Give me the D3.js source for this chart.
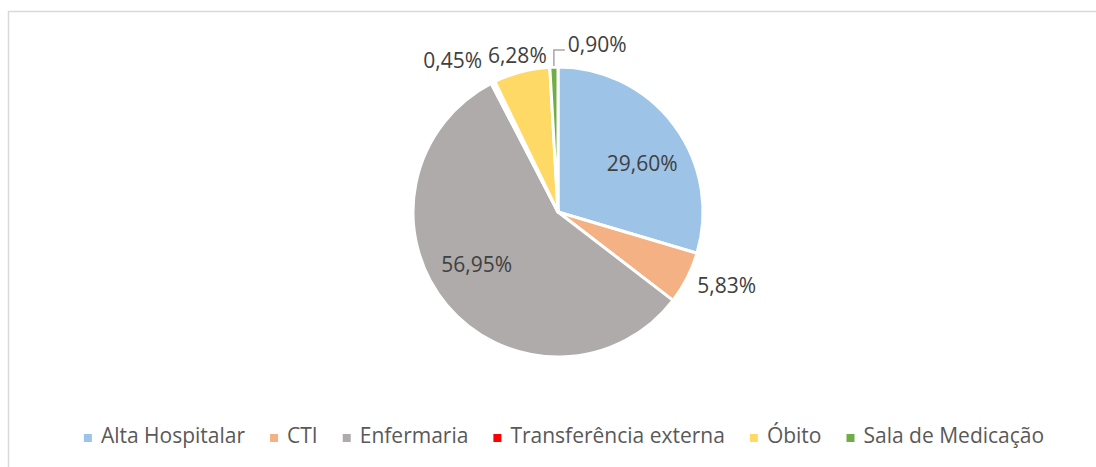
<!doctype html>
<html>
<head>
<meta charset="utf-8">
<script src="https://cdnjs.cloudflare.com/ajax/libs/d3/7.8.5/d3.min.js"></script>
<style>
  body { margin: 0; background: #fff; }
  svg text { font-family: "Open Sans", sans-serif; }
</style>
</head>
<body>
<svg id="chart" width="1096" height="467"></svg>
<script>
var categories = ["Alta Hospitalar", "CTI", "Enfermaria", "Transferência externa", "Óbito", "Sala de Medicação"];
var values = [29.60, 5.83, 56.95, 0.45, 6.28, 0.90];
var labels = ["29,60%", "5,83%", "56,95%", "0,45%", "6,28%", "0,90%"];
var colors = ["#9DC3E6", "#F4B183", "#AFABAB", "#FF0000", "#FFD966", "#70AD47"];

var svg = d3.select("#chart");
var W = 1096, H = 467;
var cx = 558, cy = 212, r = 145;

// chart frame (only left/top visible in the picture)
svg.append("rect")
  .attr("x", 8.5).attr("y", 11.5)
  .attr("width", W + 10).attr("height", H + 10)
  .attr("fill", "none")
  .attr("stroke", "#D9D9D9")
  .attr("stroke-width", 1.5);

var data = categories.map((c, i) => ({ name: c, value: values[i], label: labels[i], color: colors[i] }));

var pie = d3.pie().sort(null).value(d => d.value);
var arcs = pie(data);
var arc = d3.arc().innerRadius(0).outerRadius(r);

var g = svg.append("g").attr("transform", "translate(" + cx + "," + cy + ")");

g.selectAll("path")
  .data(arcs)
  .enter()
  .append("path")
  .attr("d", arc)
  // the tiny red slice is not visible in the reference, only in the legend
  .attr("fill", d => d.data.value < 0.5 ? "#fff" : d.data.color)
  .attr("stroke", "#fff")
  .attr("stroke-width", 3)
  .attr("stroke-linejoin", "round");

// data labels
arcs.forEach((d, i) => {
  var mid = (d.startAngle + d.endAngle) / 2;
  var sx = Math.sin(mid), sy = -Math.cos(mid);
  var t = g.append("text")
    .attr("fill", "#404040")
    .attr("font-size", 21)
    .attr("dy", "0.35em")
    .text(d.data.label);
  if (d.data.value > 10) {
    var a = mid + 0.12, rin = r * 0.67;
    t.attr("x", Math.sin(a) * rin).attr("y", -Math.cos(a) * rin).attr("text-anchor", "middle");
  } else if (i === arcs.length - 1) {
    // leader line for the last thin slice
    var p0 = [sx * (r + 1), sy * (r + 1)];
    var p1 = [p0[0], -r - 17];
    var p2 = [p0[0] + 11, -r - 17];
    g.append("path")
      .attr("d", d3.line()([p0, p1, p2]))
      .attr("fill", "none")
      .attr("stroke", "#A6A6A6")
      .attr("stroke-width", 1.5);
    t.attr("x", p2[0] + 3).attr("y", p2[1] - 5).attr("text-anchor", "start");
  } else {
    var anchor = Math.abs(sx) < 0.3 ? "middle" : (sx > 0 ? "start" : "end");
    var rr = anchor === "end" ? r + 24 : r + 17;
    t.attr("x", sx * rr + (sx > 0 ? -5 : 0)).attr("y", sy * rr).attr("text-anchor", anchor);
  }
});

// legend
var legend = svg.append("g");
var x = 0;
data.forEach((d, i) => {
  var item = legend.append("g").attr("transform", "translate(" + x + ",0)");
  item.append("rect").attr("x", 0).attr("y", -9).attr("width", 8).attr("height", 8).attr("fill", d.color);
  var tx = item.append("text")
    .attr("x", 17).attr("y", 0)
    .attr("fill", "#595959")
    .attr("font-size", 21)
    .text(d.name);
  x += 17 + tx.node().getComputedTextLength() + 25;
});
var lw = x - 25;
legend.attr("transform", "translate(" + (564 - lw / 2) + ",443)");
</script>
</body>
</html>
